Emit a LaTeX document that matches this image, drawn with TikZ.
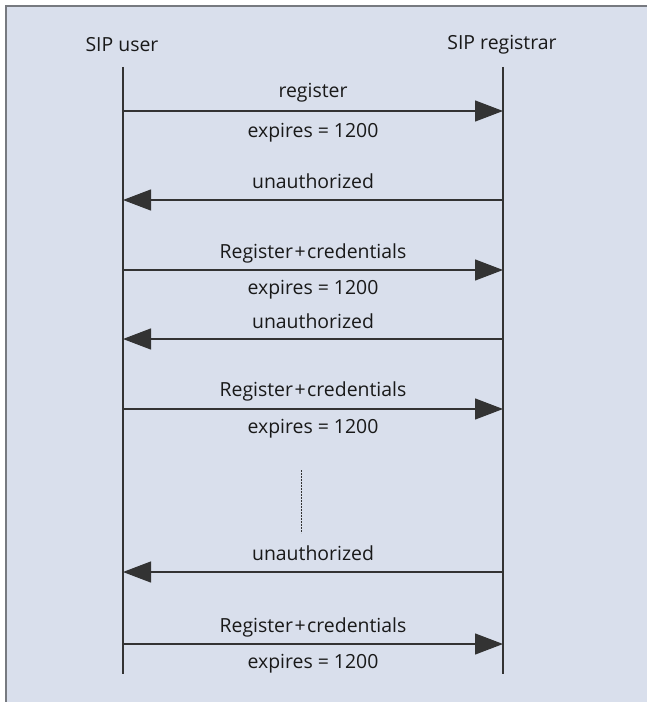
\documentclass[tikz,border=0pt]{standalone}
\usepackage{fontspec}
\setmainfont{Open Sans}
\usetikzlibrary{arrows.meta}
\definecolor{bgc}{HTML}{D9DFEC}
\definecolor{framec}{HTML}{777A80}
\definecolor{linec}{HTML}{333333}
\newcommand{\regcred}{Register\kern1.5bp+\kern1.5bp credentials}
\begin{document}
\begin{tikzpicture}[x=1bp,y=-1bp,
  lbl/.style={font=\fontsize{19.5}{22}\selectfont, text=black!90, inner sep=0pt, anchor=center},
  lifeline/.style={draw=linec, line width=1.1bp},
  msg/.style={draw=linec, line width=1.3bp, -{Triangle[length=28bp,width=21bp]}}]
\useasboundingbox (0,0) rectangle (647,702);
\fill[bgc] (6,6) rectangle (647,702);
\draw[framec, line width=2bp] (6,702) -- (6,6) -- (647,6);
% actors
\node[lbl] (user) at (122,45) {SIP user};
\node[lbl] (reg) at (502,45) {SIP registrar};
\coordinate (ut) at (123,67); \coordinate (ub) at (123,674);
\coordinate (rt) at (503,67); \coordinate (rb) at (503,674);
\draw[lifeline] (ut) -- (ub);
\draw[lifeline] (rt) -- (rb);
% message anchor points
\foreach \n/\y in {1/111,2/200,3/270,4/339,5/409,6/572,7/644}{
  \coordinate (u\n) at (123,\y);
  \coordinate (r\n) at (503,\y);
}
\draw[msg] (u1) -- (r1);
\node[lbl] (m1) at (313,93) {register};
\node[lbl] (e1) at (313,133) {expires = 1200};
\draw[msg] (r2) -- (u2);
\node[lbl] (m2) at (313,181) {unauthorized};
\draw[msg] (u3) -- (r3);
\node[lbl] (m3) at (313,253) {\regcred};
\node[lbl] (e3) at (313,290) {expires = 1200};
\draw[msg] (r4) -- (u4);
\node[lbl] (m4) at (313,321) {unauthorized};
\draw[msg] (u5) -- (r5);
\node[lbl] (m5) at (313,391) {\regcred};
\node[lbl] (e5) at (313,429) {expires = 1200};
\coordinate (d1) at (301,470); \coordinate (d2) at (301,533);
\draw[linec, line width=1bp, dash pattern=on 1.5bp off 1.5bp] (d1) -- (d2);
\draw[msg] (r6) -- (u6);
\node[lbl] (m6) at (313,553) {unauthorized};
\draw[msg] (u7) -- (r7);
\node[lbl] (m7) at (313,627) {\regcred};
\node[lbl] (e7) at (313,664) {expires = 1200};
\end{tikzpicture}
\end{document}
